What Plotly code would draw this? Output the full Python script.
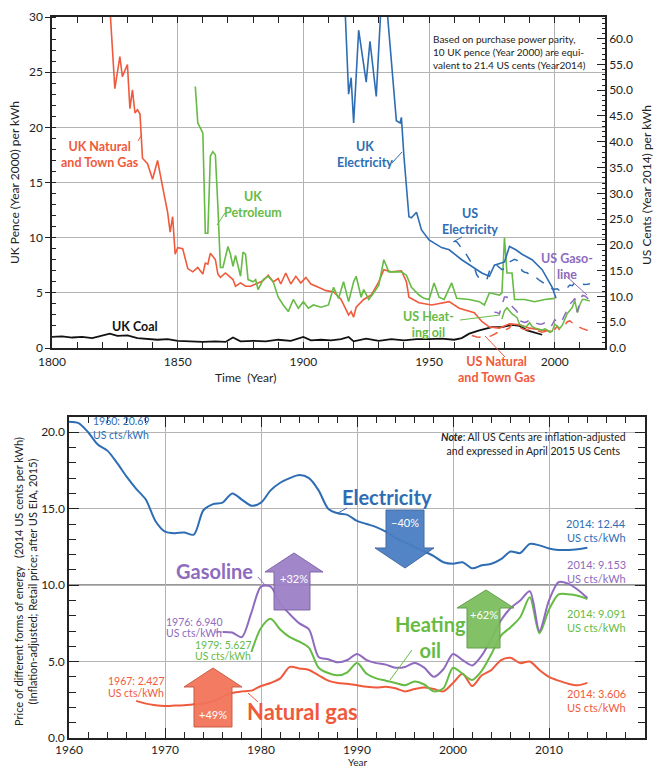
import plotly.graph_objects as go

FONT = "Lato, Roboto, Arial, sans-serif"
W, H = 657, 768

# ---------------- Top chart: UK prices (UK pence, year 2000, per kWh) ----------------
uk_coal_years = [1800, 1804, 1808, 1812, 1816, 1820, 1823, 1826, 1830, 1834, 1838, 1842, 1846,
                 1850, 1855, 1860, 1865, 1869, 1872, 1875, 1880, 1885, 1890, 1895, 1900, 1903,
                 1907, 1911, 1915, 1918, 1920, 1925, 1930, 1935, 1940, 1945, 1950, 1955, 1960,
                 1963, 1966, 1970, 1975, 1979, 1983, 1986, 1989, 1992, 1995]
uk_coal = [1.0, 1.05, 0.95, 1.0, 0.9, 1.1, 1.3, 1.1, 1.15, 0.9, 0.85, 0.75, 0.8,
           0.65, 0.6, 0.55, 0.6, 0.55, 0.95, 0.6, 0.65, 0.6, 0.75, 0.65, 1.0, 0.7,
           0.75, 0.7, 0.8, 1.0, 0.6, 0.85, 0.65, 0.8, 0.7, 0.8, 0.8, 0.85, 0.75,
           0.9, 1.3, 1.6, 1.9, 1.9, 2.1, 2.0, 1.6, 1.4, 1.2]

uk_gas_years = [1823, 1825, 1827, 1828, 1830, 1831, 1832, 1833, 1834, 1835, 1836, 1838, 1840,
                1842, 1844, 1846, 1847, 1848, 1849, 1850, 1852, 1854, 1856, 1858, 1859, 1860,
                1861, 1862, 1863, 1865, 1866, 1867, 1869, 1872, 1873, 1875, 1877, 1879, 1882,
                1884, 1886, 1888, 1890, 1891, 1893, 1895, 1897, 1899, 1901, 1903, 1906, 1909,
                1912, 1915, 1918, 1919, 1920, 1921, 1924, 1927, 1930, 1932, 1935, 1939, 1941,
                1942, 1946, 1951, 1958, 1962, 1968, 1971, 1974, 1978, 1982, 1986, 1990, 1995, 1999]
uk_gas = [31.0, 23.5, 26.4, 24.6, 25.7, 21.7, 23.4, 21.3, 21.6, 21.2, 17.2, 16.7, 15.3,
          17.0, 14.6, 12.3, 10.5, 11.9, 8.5, 9.1, 9.0, 7.2, 6.9, 7.3, 7.0, 6.7,
          7.7, 7.6, 8.6, 8.0, 6.7, 6.4, 6.8, 6.2, 5.6, 5.9, 5.6, 5.6, 5.9,
          6.1, 6.6, 6.0, 6.3, 5.8, 6.8, 5.8, 6.5, 5.9, 6.4, 5.8, 5.5, 5.2,
          5.1, 4.4, 3.0, 3.3, 2.8, 3.7, 4.4, 4.8, 6.0, 7.1, 6.9, 7.0, 6.0,
          4.6, 4.1, 3.9, 4.2, 3.6, 3.2, 2.4, 1.9, 1.8, 2.2, 2.1, 1.8, 1.6, 1.5]

uk_pet_years = [1857, 1858, 1860, 1861, 1862, 1863, 1864, 1865, 1866, 1867, 1868, 1870, 1871,
                1872, 1873, 1874, 1875, 1876, 1877, 1878, 1880, 1881, 1882, 1884, 1886, 1888,
                1890, 1892, 1894, 1896, 1898, 1900, 1902, 1904, 1907, 1910, 1912, 1914, 1916,
                1918, 1920, 1921, 1923, 1924, 1926, 1928, 1930, 1932, 1934, 1939, 1941, 1943,
                1946, 1948, 1950, 1952, 1954, 1956, 1959, 1961, 1966, 1970, 1972, 1974, 1978,
                1979, 1980, 1981, 1983, 1984, 1988, 1992, 1996, 2000]
uk_pet = [23.7, 20.4, 19.5, 10.4, 10.4, 17.4, 17.8, 17.5, 12.8, 7.3, 7.3, 9.2, 8.5,
          7.4, 8.4, 7.3, 6.5, 8.7, 8.5, 6.2, 6.0, 6.2, 5.3, 6.2, 6.5, 6.0,
          4.6, 3.9, 3.3, 4.4, 3.6, 4.2, 3.6, 3.9, 3.7, 3.9, 5.5, 4.5, 6.0,
          4.2, 6.0, 6.5, 4.6, 5.3, 4.4, 5.0, 5.7, 8.0, 6.9, 6.9, 6.6, 5.5,
          4.8, 4.5, 4.4, 5.9, 4.6, 4.4, 5.9, 4.5, 4.4, 4.2, 3.9, 5.0, 4.8,
          5.0, 10.0, 6.8, 6.8, 4.4, 4.4, 4.2, 4.4, 4.5]

uk_elec_years = [1916, 1918, 1919, 1920, 1922, 1924, 1925, 1926.5, 1929, 1931, 1933, 1934.5,
                 1937, 1938.5, 1939, 1940, 1941, 1942, 1943, 1945, 1947, 1950, 1955, 1958,
                 1963, 1968, 1971, 1974, 1976, 1980, 1982, 1984.5, 1987, 1991, 1995, 1999, 2000.5]
uk_elec = [34.0, 23.0, 24.5, 20.4, 28.8, 25.5, 24.1, 27.8, 22.8, 31.5, 31.5, 27.4,
           20.6, 20.4, 20.9, 17.4, 14.6, 11.9, 11.8, 12.3, 10.7, 9.8, 9.1, 8.9,
           8.0, 7.3, 6.8, 6.5, 7.5, 7.8, 9.2, 8.9, 8.5, 8.0, 7.1, 5.5, 4.5]

# ---------------- Bottom chart: US prices (2014 US cents per kWh) ----------------
elec_years = list(range(1960, 2015))
elec = [20.69, 20.6, 20.0, 19.2, 18.8, 18.0, 17.1, 16.3, 15.6, 14.2, 13.5, 13.4, 13.45, 13.3,
        14.9, 15.3, 15.4, 16.0, 15.6, 15.2, 15.4, 16.2, 16.7, 17.0, 17.2, 17.0, 16.2, 15.0,
        14.7, 14.6, 14.2, 14.0, 13.8, 13.5, 13.1, 12.8, 12.5, 12.2, 11.9, 11.5, 11.4, 11.5,
        11.1, 11.3, 11.4, 11.7, 12.2, 12.1, 12.7, 12.6, 12.4, 12.3, 12.3, 12.35, 12.44]

gas_years = list(range(1976, 2015))
gasoline = [6.94, 6.9, 6.6, 8.2, 9.9, 9.9, 8.8, 8.1, 7.5, 7.1, 5.3, 5.15, 4.95, 5.1, 5.5,
            5.1, 4.9, 4.8, 4.6, 4.65, 4.9, 4.6, 4.0, 4.5, 5.5, 5.1, 4.75, 5.4, 6.5, 7.7,
            8.5, 9.0, 9.6, 7.0, 9.0, 10.2, 10.1, 9.7, 9.153]

oil_years = list(range(1979, 2015))
heating_oil = [5.627, 7.2, 7.8, 7.1, 6.6, 6.3, 5.9, 4.6, 4.25, 4.1, 4.3, 4.9, 4.2, 3.9,
               3.75, 3.6, 3.45, 3.7, 3.5, 3.05, 3.25, 4.6, 4.2, 3.8, 4.4, 5.5, 6.7, 7.25,
               7.9, 9.2, 6.85, 8.4, 9.4, 9.4, 9.3, 9.091]

ng_years = list(range(1967, 2015))
natural_gas = [2.427, 2.25, 2.15, 2.1, 2.12, 2.15, 2.2, 2.25, 2.4, 2.7, 2.95, 3.05, 3.1,
               3.4, 3.6, 3.9, 4.65, 4.55, 4.45, 4.1, 3.75, 3.6, 3.55, 3.45, 3.35, 3.3,
               3.35, 3.25, 3.05, 3.2, 3.3, 3.2, 3.05, 3.6, 4.2, 3.4, 4.1, 4.45, 5.1, 5.25,
               4.9, 5.0, 4.45, 4.0, 3.75, 3.55, 3.45, 3.606]

PPP = 2.14  # 10 UK pence (2000) = 21.4 US cents (2014)

BLUE = "#2E6DB4"
PURPLE = "#8E6BBE"
GREEN = "#66BB44"
RED = "#EF5A3C"
BLACK = "#111111"

fig = go.Figure()

# ---- top chart traces
fig.add_trace(go.Scatter(x=uk_coal_years, y=uk_coal, mode="lines", line=dict(color=BLACK, width=1.8),
                         xaxis="x", yaxis="y", name="UK Coal"))
fig.add_trace(go.Scatter(x=uk_gas_years, y=uk_gas, mode="lines", line=dict(color=RED, width=1.6),
                         xaxis="x", yaxis="y", name="UK Natural and Town Gas"))
fig.add_trace(go.Scatter(x=uk_pet_years, y=uk_pet, mode="lines", line=dict(color=GREEN, width=1.6),
                         xaxis="x", yaxis="y", name="UK Petroleum"))
fig.add_trace(go.Scatter(x=uk_elec_years, y=uk_elec, mode="lines", line=dict(color=BLUE, width=1.6),
                         xaxis="x", yaxis="y", name="UK Electricity"))
fig.add_trace(go.Scatter(x=elec_years, y=elec, mode="lines", line=dict(color=BLUE, width=1.5, dash="dash"),
                         xaxis="x", yaxis="y2", name="US Electricity"))
fig.add_trace(go.Scatter(x=ng_years, y=natural_gas, mode="lines", line=dict(color=RED, width=1.5, dash="dash"),
                         xaxis="x", yaxis="y2", name="US Natural and Town Gas"))
fig.add_trace(go.Scatter(x=oil_years, y=heating_oil, mode="lines", line=dict(color=GREEN, width=1.5),
                         xaxis="x", yaxis="y2", name="US Heating oil"))
fig.add_trace(go.Scatter(x=gas_years, y=gasoline, mode="lines", line=dict(color=PURPLE, width=1.5, dash="dash"),
                         xaxis="x", yaxis="y2", name="US Gasoline"))

# ---- bottom chart traces
for xs, ys, col in [(ng_years, natural_gas, RED), (oil_years, heating_oil, GREEN),
                    (gas_years, gasoline, PURPLE), (elec_years, elec, BLUE)]:
    fig.add_trace(go.Scatter(x=xs, y=ys, mode="lines", line=dict(color=col, width=2, shape="spline", smoothing=0.8),
                             xaxis="x2", yaxis="y3"))


def px(x):
    return x / W


def py(y):
    return 1 - y / H


GRID = "#b4b4b4"
axis_common = dict(showline=True, linecolor="#222", linewidth=1.5, gridcolor=GRID, gridwidth=1,
                   zeroline=False, tickfont=dict(size=12, color="#222"), tickcolor="#222",
                   automargin=False)

fig.update_layout(
    width=W, height=H, autosize=False, showlegend=False,
    margin=dict(l=0, r=0, t=0, b=0),
    paper_bgcolor="white", plot_bgcolor="white",
    font=dict(family=FONT, color="#222"),
    xaxis=dict(domain=[px(52), px(605)], anchor="y", range=[1800, 2020],
               tickvals=[1800, 1850, 1900, 1950, 2000], ticks="inside", ticklen=6, mirror="ticks",
               ticklabelstandoff=2,
               minor=dict(tick0=1800, dtick=10, ticks="inside", ticklen=6, showgrid=False), **axis_common),
    yaxis=dict(domain=[py(348), py(17)], anchor="x", range=[0, 30], dtick=5, ticks="outside", ticklen=5,
               minor=dict(dtick=1, ticks="inside", ticklen=4, showgrid=False), **axis_common),
    yaxis2=dict(overlaying="y", side="right", anchor="x", range=[0, 30 * PPP],
                tickvals=[i * 5 for i in range(13)], tickformat=".1f", ticks="inside", ticklen=8,
                minor=dict(dtick=1, ticks="inside", ticklen=3, showgrid=False), showgrid=False,
                showline=True, linecolor="#222", linewidth=1.5, zeroline=False,
                tickfont=dict(size=12, color="#222"), tickcolor="#222", automargin=False),
    xaxis2=dict(domain=[px(69), px(645)], anchor="y3", range=[1960, 2020], dtick=10,
                ticks="inside", ticklen=10, mirror="ticks",
                minor=dict(dtick=2, ticks="inside", ticklen=6, showgrid=False), **axis_common),
    yaxis3=dict(domain=[py(738), py(417)], anchor="x2", range=[0, 21], dtick=5, tickformat=".1f",
                ticks="inside", ticklen=10, mirror="ticks",
                minor=dict(dtick=1, ticks="inside", ticklen=7, showgrid=False), **axis_common),
)

ann = []


def A(text, x, y, color="#222", size=12, bold=False, xanchor="center", yanchor="middle",
      align="center", angle=0):
    t = f"<b>{text}</b>" if bold else text
    ann.append(dict(text=t, x=px(x), y=py(y), xref="paper", yref="paper", showarrow=False,
                    font=dict(size=size, color=color, family=FONT), xanchor=xanchor,
                    yanchor=yanchor, align=align, textangle=angle, borderpad=0))


def lines(parts, x, y0, step, color, size=10.5, xanchor="center"):
    for i, p in enumerate(parts):
        A(p, x, y0 + i * step, color, size, xanchor=xanchor, align=xanchor if xanchor != "center" else "center")


# top chart labels
A("Based on purchase power parity,<br>10 UK pence (Year 2000) are equi-<br>valent to 21.4 US cents (Year2014)",
  432, 52, size=10, xanchor="left", align="left")
A("UK Natural<br>and Town Gas", 100, 155, RED, 12.5, True)
A("UK<br>Petroleum", 253, 205, GREEN, 12.5, True)
A("UK<br>Electricity", 365, 155, BLUE, 12.5, True)
A("US<br>Electricity", 470, 221, BLUE, 12.5, True)
A("US Gaso-<br>line", 567, 266, PURPLE, 12.5, True)
A("US Heat-<br>ing oil", 428, 325, GREEN, 12.5, True)
A("UK Coal", 135, 326, BLACK, 12.5, True)
A("US Natural<br>and Town Gas", 497, 369, RED, 12.5, True)
A("Time  (Year)", 245, 377, size=12)
A("UK Pence (Year 2000) per kWh", 14, 183, size=12, angle=-90)
A("US Cents (Year 2014) per kWh", 647, 185, size=12, angle=-90)

# bottom chart labels
lines(["1960: 20.69", "US cts/kWh"], 92, 421, 14, BLUE, 10.5, "left")
A("<b><i>Note</i></b>: All US Cents are inflation-adjusted<br>and expressed in April 2015 US Cents",
  533, 444, size=10.5)
A("Electricity", 387, 497, BLUE, 20, True)
A("Gasoline", 214, 571, PURPLE, 20, True)
A("Heating<br>oil", 430, 637, GREEN, 20, True)
A("Natural gas", 302, 711, RED, 22, True)
lines(["2014: 12.44", "US cts/kWh"], 596, 523, 14, BLUE, 11)
lines(["2014: 9.153", "US cts/kWh"], 596, 564, 14, PURPLE, 11)
lines(["2014: 9.091", "US cts/kWh"], 596, 613, 14, GREEN, 11)
lines(["2014: 3.606", "US cts/kWh"], 596, 693, 14, RED, 11)
lines(["1976: 6.940", "US cts/kWh"], 165, 622, 11, PURPLE, 10.5, "left")
lines(["1979: 5.627", "US cts/kWh"], 194, 645, 11, GREEN, 10.5, "left")
lines(["1967: 2.427", "US cts/kWh"], 107, 681, 12, RED, 10.5, "left")
A("Price of different forms of energy   (2014 US cents per kWh)<br>(Inflation-adjusted; Retail price; after US EIA, 2015)",
  25, 582, size=11, angle=-90)
A("Year", 357, 755, size=10, yanchor="top")

shapes = []


def leader(x0, y0, x1, y1, color):
    shapes.append(dict(type="line", xref="paper", yref="paper", x0=px(x0), y0=py(y0), x1=px(x1), y1=py(y1),
                       line=dict(color=color, width=1)))


leader(138, 141, 142, 134, RED)
leader(225, 213, 217, 225, GREEN)
leader(392, 163, 402, 152, BLUE)
leader(453, 242, 462, 237, BLUE)
leader(565, 275, 587, 295, PURPLE)
leader(460, 320, 500, 315, GREEN)
leader(485, 336, 505, 357, RED)
leader(338, 513, 347, 508, BLUE)
leader(258, 577, 265, 585, PURPLE)
leader(412, 650, 390, 680, GREEN)
leader(248, 693, 258, 702, RED)
leader(215, 632, 222, 632, PURPLE)

# dark reference line at 10.0 in bottom chart
shapes.append(dict(type="line", xref="x2 domain", yref="y3", x0=0, x1=1, y0=10, y1=10,
                   line=dict(color="#333", width=1.2), layer="below"))


def arrow(sx0, sx1, send, hx0, hx1, hbase, tipx, tipy, fill, edge):
    pts = [(sx0, send), (sx1, send), (sx1, hbase), (hx1, hbase), (tipx, tipy), (hx0, hbase), (sx0, hbase)]
    path = "M " + " L ".join(f"{px(a):.5f},{py(b):.5f}" for a, b in pts) + " Z"
    shapes.append(dict(type="path", xref="paper", yref="paper", path=path, fillcolor=fill,
                       line=dict(color=edge, width=1), opacity=0.95))


arrow(386, 424, 510, 375, 434, 548, 405, 568, "#4A7EC2", "#3A64A0")
arrow(274, 310, 610, 265, 323, 572, 294, 553, "#9E80C8", "#7A5FA5")
arrow(467, 500, 648, 457, 514, 608, 486, 590, "#7DBE5E", "#5E9A44")
arrow(194, 232, 727, 184, 242, 687, 213, 668, "#F27459", "#C9553F")

A("−40%", 405, 522, "white", 11)
A("+32%", 294, 578, "white", 11)
A("+62%", 484, 614, "white", 11)
A("+49%", 213, 714, "white", 11)

fig.update_layout(annotations=ann, shapes=shapes)
fig.write_html("out.html", config={"displayModeBar": False},
               post_script="document.body.style.margin='0';document.body.style.padding='0';")
